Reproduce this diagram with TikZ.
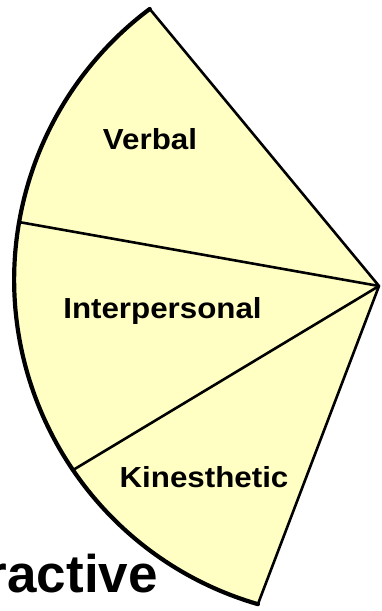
\documentclass[tikz,border=0pt]{standalone}
\usepackage{fontspec}
\setmainfont{Liberation Sans}
\usetikzlibrary{calc}
\definecolor{fanfill}{RGB}{255,255,196}
\begin{document}
\begin{tikzpicture}[x=1pt,y=1pt,
  edge/.style={line width=2.6pt,line join=round,line cap=round},
  rim/.style={line width=4.2pt,line cap=round},
  lbl/.style={inner sep=0pt,anchor=base,font=\bfseries\fontsize{29}{34}\selectfont}]
\useasboundingbox (0,0) rectangle (381,611);
\coordinate (O) at (352.2,331.4);
\coordinate (A) at (379,325);
\coordinate (T) at ($(O)+(126.8:338)$);
\coordinate (B) at ($(O)+(253.8:338)$);
\coordinate (D1) at ($(O)+(170.2:338)$);
\coordinate (D2) at ($(O)+(214.3:338)$);
\fill[fanfill] (A) -- (B) arc[start angle=253.8,end angle=126.8,radius=338] -- cycle;
\draw[rim] (B) arc[start angle=253.8,end angle=126.8,radius=338];
\draw[edge] (T) -- (A) -- (B);
\draw[edge] (D1) -- (A);
\draw[edge] (D2) -- (A);
\node[lbl] (verbal) at (150,461) {\scalebox{1.08}[1]{Verbal}};
\node[lbl] (inter) at (162.5,292.7) {\scalebox{1.08}[1]{Interpersonal}};
\node[lbl] (kin) at (204,123.7) {\scalebox{1.08}[1]{Kinesthetic}};
\node[inner sep=0pt,anchor=base east,font=\bfseries\fontsize{53}{60}\selectfont] (inter2) at (158,18) {ractive};
\end{tikzpicture}
\end{document}
